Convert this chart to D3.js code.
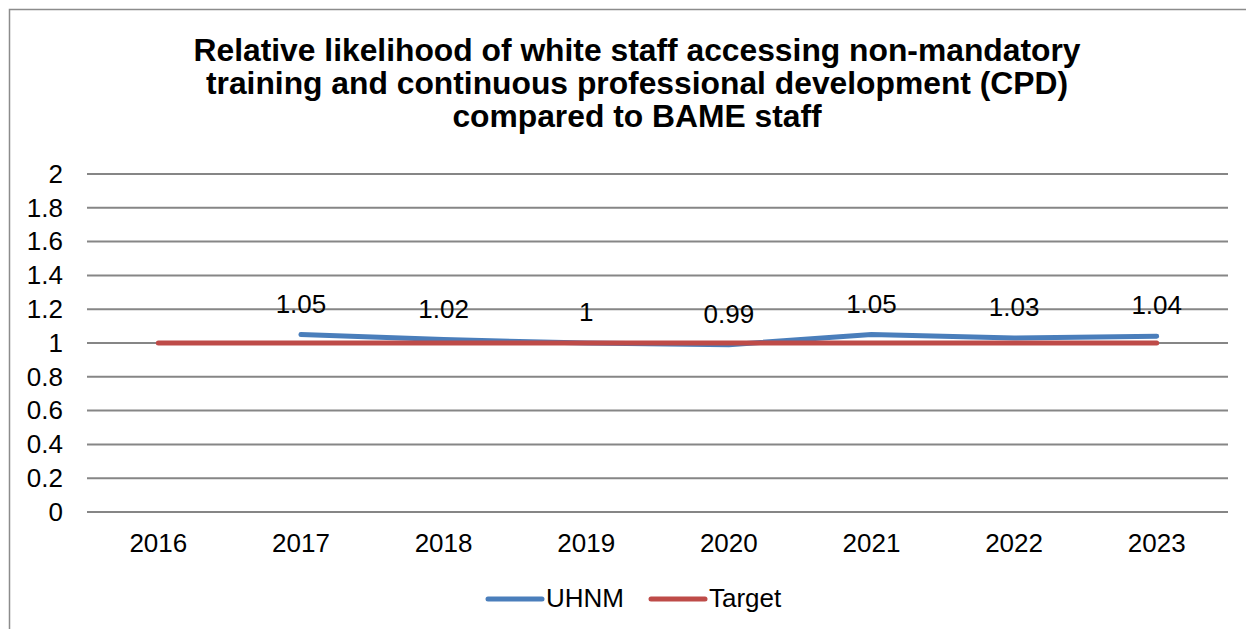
<!DOCTYPE html>
<html><head><meta charset="utf-8">
<script src="https://cdn.jsdelivr.net/npm/d3@7"></script>
<style>body{margin:0;background:#fff}text{font-family:"Liberation Sans",Arial,sans-serif}</style>
</head><body><svg id="c" width="1246" height="629"></svg>
<script>
const years = ["2016","2017","2018","2019","2020","2021","2022","2023"];
const uhnm = [null,1.05,1.02,1,0.99,1.05,1.03,1.04];
const target = [1,1,1,1,1,1,1,1];
const yTicks = [0,0.2,0.4,0.6,0.8,1,1.2,1.4,1.6,1.8,2];
const titleLines = ["Relative likelihood of white staff accessing non-mandatory","training and continuous professional development (CPD)","compared to BAME staff"];

const svg = d3.select("#c");
svg.append("rect").attr("x",9.5).attr("y",9.5).attr("width",1250).attr("height",640).attr("fill","none").attr("stroke","#8c8c8c").attr("stroke-width",1.5);

const x = d3.scaleBand().domain(years).range([87,1228]);
const y = d3.scaleLinear().domain([0,2]).range([512,174]);
const FS = 26;

svg.append("g").selectAll("line").data(yTicks).join("line")
  .attr("x1",87).attr("x2",1228).attr("y1",d=>y(d)).attr("y2",d=>y(d))
  .attr("stroke","#868686").attr("stroke-width",2);

const yAxis = d3.axisLeft(y).tickValues(yTicks).tickSize(0).tickPadding(0).tickFormat(d=>String(+d.toFixed(1)));
const ga = svg.append("g").attr("transform","translate(63,0)").call(yAxis);
ga.select(".domain").remove();
ga.selectAll("text").attr("font-size",FS).attr("fill","#000").attr("font-family","Liberation Sans, Arial, sans-serif");

const xAxis = d3.axisBottom(x).tickSize(0).tickPadding(0);
const gx = svg.append("g").attr("transform","translate(0,534)").call(xAxis);
gx.select(".domain").remove();
gx.selectAll("text").attr("font-size",FS).attr("fill","#000").attr("dy","0.71em").attr("font-family","Liberation Sans, Arial, sans-serif");

const cx = d=>x(d)+x.bandwidth()/2;
const line = d3.line().defined(d=>d[1]!=null).x(d=>cx(d[0])).y(d=>y(d[1]));

svg.append("path").datum(years.map((yr,i)=>[yr,uhnm[i]])).attr("d",line)
  .attr("fill","none").attr("stroke","#4A7EBB").attr("stroke-width",5).attr("stroke-linecap","round").attr("stroke-linejoin","round");
svg.append("path").datum(years.map((yr,i)=>[yr,target[i]])).attr("d",line)
  .attr("fill","none").attr("stroke","#BE4B48").attr("stroke-width",5).attr("stroke-linecap","round").attr("stroke-linejoin","round");

svg.append("g").selectAll("text").data(years.map((yr,i)=>[yr,uhnm[i]]).filter(d=>d[1]!=null)).join("text")
  .attr("x",d=>cx(d[0])).attr("y",d=>y(d[1])-22).attr("text-anchor","middle")
  .attr("font-size",FS).attr("fill","#000").text(d=>String(d[1]));

svg.append("g").selectAll("text").data(titleLines).join("text")
  .attr("x",637).attr("y",(d,i)=>61+i*33).attr("text-anchor","middle")
  .attr("font-size",31.8).attr("font-weight","bold").attr("fill","#000").text(d=>d);

const legend = [["UHNM","#4A7EBB",488],["Target","#BE4B48",651]];
const lg = svg.append("g");
legend.forEach(([name,col,lx])=>{
  lg.append("line").attr("x1",lx).attr("x2",lx+54).attr("y1",599).attr("y2",599).attr("stroke",col).attr("stroke-width",5).attr("stroke-linecap","round");
  lg.append("text").attr("x",lx+58).attr("y",607).attr("font-size",FS).attr("fill","#000").text(name);
});
</script></body></html>
